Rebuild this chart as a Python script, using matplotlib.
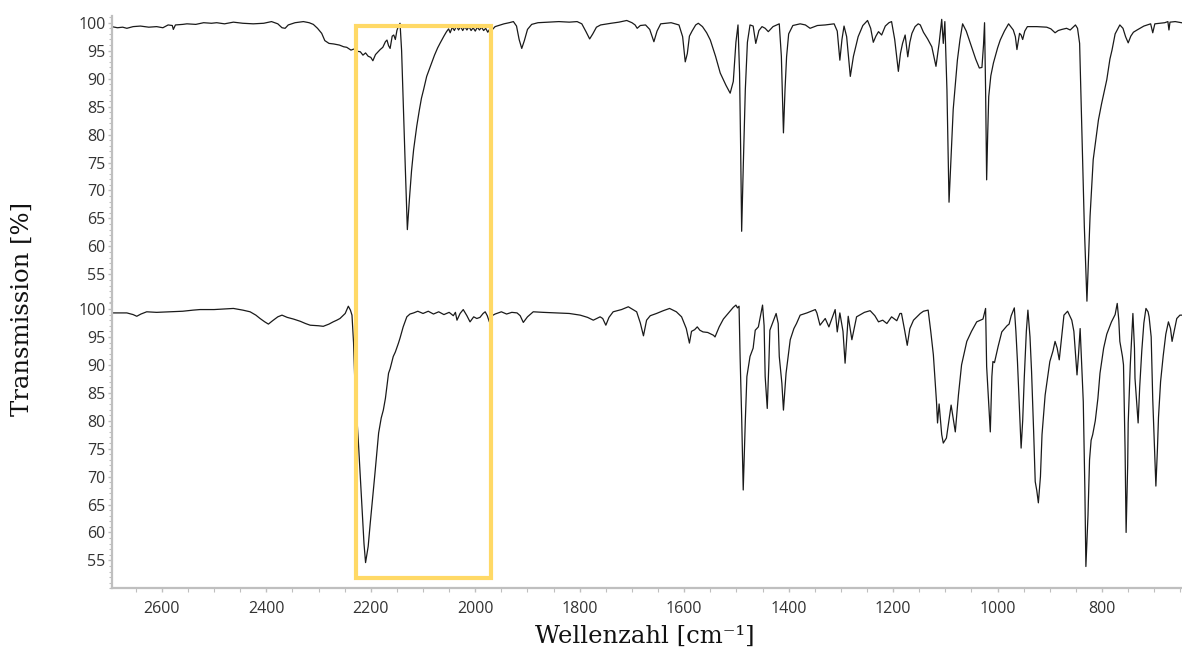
import matplotlib
matplotlib.use("Agg")
import matplotlib.pyplot as plt
from matplotlib.patches import Rectangle
from matplotlib.ticker import MultipleLocator
import numpy as np

# top spectrum (wavenumber cm-1, transmission %)
wn_top = [2696, 2685, 2675, 2667, 2655, 2641, 2625, 2610, 2598, 2588,
          2580, 2578, 2574, 2560, 2552, 2535, 2520, 2505, 2495, 2480,
          2463, 2445, 2425, 2405, 2390, 2378, 2370, 2364, 2358, 2345,
          2329, 2318, 2310, 2302, 2294, 2288, 2280, 2271, 2260, 2252,
          2246, 2238, 2232, 2226, 2220, 2215, 2210, 2205, 2200, 2196,
          2191, 2186, 2182, 2177, 2172, 2169, 2166, 2163, 2159, 2156,
          2153, 2150, 2147, 2144, 2141, 2139, 2134, 2130, 2126, 2122,
          2118, 2112, 2107, 2103, 2099, 2093, 2086, 2078, 2072, 2067,
          2060, 2055, 2051, 2048, 2044, 2040, 2036, 2032, 2028, 2024,
          2020, 2016, 2012, 2008, 2004, 2000, 1996, 1992, 1988, 1984,
          1980, 1976, 1972, 1968, 1962, 1955, 1945, 1935, 1927, 1921,
          1916, 1911, 1906, 1900, 1892, 1880, 1860, 1840, 1820, 1805,
          1796, 1788, 1781, 1775, 1768, 1760, 1740, 1725, 1710, 1700,
          1694, 1690, 1684, 1674, 1666, 1658, 1652, 1645, 1625, 1610,
          1603, 1598, 1594, 1590, 1585, 1578, 1573, 1565, 1557, 1550,
          1540, 1531, 1520, 1512, 1506, 1501, 1497, 1494, 1492, 1490,
          1487, 1483, 1479, 1474, 1468, 1463, 1457, 1451, 1445, 1439,
          1430, 1418, 1414, 1410, 1407, 1404, 1400, 1392, 1378, 1368,
          1359, 1345, 1330, 1313, 1307, 1302, 1298, 1294, 1289, 1282,
          1276, 1267, 1258, 1249, 1243, 1238, 1233, 1228, 1222, 1215,
          1208, 1203, 1197, 1190, 1186, 1182, 1177, 1172, 1168, 1164,
          1158, 1152, 1148, 1142, 1134, 1126, 1118, 1112, 1107, 1104,
          1101, 1097, 1093, 1089, 1085, 1077, 1072, 1067, 1060, 1050,
          1042, 1035, 1030, 1027, 1025, 1023, 1021, 1019, 1017, 1013,
          1008, 1000, 995, 987, 979, 970, 966, 963, 960, 958,
          955, 952, 948, 943, 925, 906, 898, 890, 884, 877,
          868, 861, 851, 847, 843, 839, 834, 829, 823, 817,
          807, 801, 791, 785, 781, 775, 766, 760, 755, 750,
          745, 740, 733, 720, 707, 703, 699, 690, 680, 674,
          672, 670, 660, 648]
t_top = [99.3, 99.1, 99.2, 99.0, 99.3, 99.4, 99.2, 99.3, 99.1, 99.6,
         99.5, 98.8, 99.6, 99.7, 99.8, 99.7, 100.0, 99.9, 100.0, 99.8,
         100.1, 99.9, 99.8, 99.9, 100.2, 99.8, 99.1, 99.0, 99.6, 100.0,
         100.2, 100.0, 99.7, 99.0, 98.1, 96.8, 96.3, 96.2, 96.0, 95.7,
         95.6, 95.1, 95.3, 94.9, 94.8, 94.2, 94.6, 94.0, 93.8, 93.2,
         94.3, 94.8, 95.2, 95.6, 96.6, 96.9, 95.9, 95.4, 97.6, 97.8,
         97.0, 98.6, 99.4, 99.9, 95.0, 89.0, 74.3, 63.0, 68.5, 73.5,
         77.3, 81.5, 84.4, 86.5, 88.0, 90.4, 92.2, 94.2, 95.5, 96.4,
         97.6, 98.4, 98.9, 98.2, 99.2, 98.6, 99.4, 98.7, 99.3, 98.6,
         99.3, 98.7, 99.3, 98.6, 99.1, 98.5, 99.2, 98.7, 99.2, 98.6,
         99.0, 98.3, 98.9, 98.7, 99.3, 99.5, 99.8, 100.0, 100.2, 99.4,
         97.0, 95.4, 96.8, 98.8, 99.7, 100.0, 100.1, 100.2, 100.1, 100.2,
         99.8, 98.4, 97.1, 98.0, 99.2, 99.6, 99.9, 100.1, 100.4, 100.0,
         99.6, 99.0, 99.5, 99.6, 98.8, 96.6, 98.5, 99.8, 100.0, 99.6,
         97.5, 93.0, 94.5, 97.6, 98.5, 99.6, 99.9, 99.3, 98.2, 96.9,
         94.0, 91.0, 88.8, 87.4, 89.5, 96.5, 99.6, 91.0, 78.0, 62.7,
         74.0, 88.0, 96.5, 99.6, 99.4, 96.3, 98.6, 99.3, 99.0, 98.4,
         99.3, 99.8, 94.0, 80.3, 88.0, 93.9, 98.0, 99.5, 99.8, 99.6,
         99.0, 99.5, 99.6, 99.8, 98.5, 93.3, 97.0, 99.4, 97.5, 90.4,
         94.0, 97.5, 99.5, 100.4, 99.0, 96.5, 97.6, 98.4, 97.8, 99.4,
         100.0, 100.2, 97.0, 91.3, 94.5, 96.3, 97.8, 93.9, 96.5, 98.1,
         99.3, 99.8, 99.6, 98.3, 97.1, 95.7, 92.2, 96.3, 100.6, 96.3,
         100.2, 88.0, 67.9, 76.0, 84.5, 93.3, 97.0, 99.8, 98.5, 95.7,
         93.5, 91.9, 92.0, 96.0, 100.0, 88.0, 71.9, 80.0, 86.8, 90.5,
         92.8, 95.5, 96.9, 98.5, 99.8, 98.7, 97.5, 95.2, 97.0, 98.1,
         97.8, 97.0, 98.5, 99.3, 99.3, 99.2, 98.9, 98.2, 98.6, 98.8,
         99.0, 98.7, 99.6, 99.0, 96.3, 81.5, 63.6, 50.2, 65.4, 75.5,
         82.6, 85.5, 89.8, 93.5, 95.1, 98.0, 99.6, 99.0, 97.5, 96.4,
         97.6, 98.3, 98.7, 99.4, 99.8, 98.2, 99.8, 99.9, 100.0, 100.2,
         98.7, 100.1, 100.2, 100.0]

# bottom spectrum
wn_bot = [2696, 2680, 2667, 2655, 2648, 2640, 2629, 2610, 2584, 2560,
          2540, 2527, 2500, 2480, 2463, 2445, 2431, 2420, 2412, 2403,
          2396, 2388, 2378, 2370, 2360, 2348, 2335, 2325, 2316, 2300,
          2291, 2280, 2272, 2265, 2259, 2249, 2243, 2239, 2236, 2233,
          2230, 2224, 2217, 2213, 2210, 2205, 2201, 2192, 2185, 2180,
          2176, 2172, 2166, 2163, 2157, 2153, 2147, 2144, 2138, 2131,
          2125, 2118, 2110, 2100, 2090, 2080, 2070, 2060, 2050, 2042,
          2038, 2035, 2029, 2023, 2016, 2010, 2003, 1997, 1991, 1985,
          1981, 1977, 1973, 1968, 1962, 1950, 1940, 1930, 1920, 1914,
          1908, 1900, 1889, 1870, 1844, 1820, 1799, 1785, 1774, 1761,
          1756, 1750, 1744, 1736, 1720, 1707, 1700, 1691, 1684, 1678,
          1672, 1665, 1653, 1640, 1628, 1615, 1605, 1596, 1590, 1586,
          1580, 1575, 1570, 1564, 1555, 1544, 1541, 1533, 1525, 1515,
          1506, 1501, 1498, 1495, 1493, 1490, 1487, 1483, 1480, 1477,
          1474, 1468, 1464, 1458, 1450, 1447, 1445, 1441, 1438, 1436,
          1430, 1424, 1420, 1418, 1413, 1410, 1405, 1397, 1390, 1385,
          1378, 1365, 1349, 1346, 1340, 1330, 1323, 1311, 1307, 1302,
          1296, 1292, 1286, 1279, 1270, 1255, 1244, 1235, 1228, 1220,
          1212, 1203, 1193, 1187, 1184, 1178, 1173, 1168, 1161, 1148,
          1142, 1133, 1128, 1123, 1117, 1115, 1112, 1107, 1104, 1098,
          1089, 1081, 1075, 1069, 1059, 1050, 1040, 1028, 1023, 1021,
          1018, 1014, 1011, 1009, 1006, 999, 992, 982, 978, 974,
          968, 965, 962, 958, 955, 952, 949, 945, 942, 938,
          935, 931, 928, 925, 922, 918, 915, 909, 904, 900,
          894, 890, 886, 882, 878, 873, 866, 862, 858, 854,
          848, 845, 842, 839, 836, 833, 831, 827, 824, 821,
          818, 813, 808, 804, 797, 791, 782, 775, 771, 768,
          766, 761, 759, 756, 754, 751, 750, 746, 741, 738,
          737, 731, 728, 724, 720, 716, 712, 710, 706, 703,
          700, 697, 694, 692, 688, 683, 678, 673, 669, 666,
          661, 657, 651, 648]
t_bot = [99.3, 99.3, 99.3, 99.0, 98.7, 99.1, 99.5, 99.4, 99.5, 99.6,
         99.8, 99.9, 99.9, 100.0, 100.1, 99.8, 99.5, 98.9, 98.3, 97.7,
         97.3, 97.9, 98.6, 98.9, 98.5, 98.2, 97.8, 97.4, 97.1, 97.0,
         96.9, 97.3, 97.7, 98.0, 98.3, 99.2, 100.5, 99.8, 98.9, 94.0,
         85.5, 76.6, 64.7, 58.0, 54.6, 57.5, 61.7, 70.6, 77.8, 80.5,
         81.9, 84.0, 88.5, 89.3, 91.5, 92.3, 93.9, 94.8, 96.8, 98.6,
         99.1, 99.3, 99.6, 99.2, 99.6, 99.1, 99.5, 99.0, 99.4, 98.8,
         99.4, 98.0, 99.2, 99.9, 98.8, 97.7, 98.6, 98.3, 98.5, 99.2,
         99.5, 98.8, 97.7, 98.8, 99.1, 99.5, 99.1, 99.4, 99.3, 98.8,
         97.6, 98.6, 99.5, 99.4, 99.3, 99.2, 98.9, 98.5, 98.0, 98.6,
         98.3, 97.1, 98.5, 99.5, 99.9, 100.4, 100.0, 99.5, 97.5, 95.2,
         98.0, 98.8, 99.2, 99.7, 100.1, 99.5, 98.6, 96.5, 93.9, 96.0,
         96.3, 96.8, 96.2, 95.9, 95.8, 95.3, 95.0, 96.8, 98.2, 99.3,
         100.3, 100.7, 100.2, 100.5, 91.5, 80.7, 67.6, 80.0, 87.9, 89.7,
         91.5, 93.0, 96.2, 96.8, 100.7, 97.0, 87.9, 82.2, 90.0, 96.2,
         97.7, 99.2, 97.4, 91.5, 86.7, 81.9, 88.5, 94.5, 96.5, 97.4,
         98.9, 99.3, 99.9, 99.3, 97.1, 98.3, 96.8, 99.9, 95.9, 99.3,
         96.0, 90.3, 98.7, 94.5, 98.6, 99.4, 99.7, 98.8, 97.7, 98.0,
         97.4, 98.6, 97.9, 99.2, 99.2, 96.2, 93.5, 96.5, 98.0, 99.2,
         99.6, 99.8, 96.0, 91.8, 83.4, 79.6, 83.0, 77.5, 76.0, 76.9,
         82.8, 78.0, 84.6, 90.0, 94.2, 96.0, 97.7, 98.2, 100.1, 89.7,
         84.6, 78.0, 87.9, 90.6, 90.4, 93.3, 95.9, 97.0, 97.3, 98.8,
         100.2, 96.0, 90.6, 82.0, 75.1, 80.0, 87.6, 96.0, 99.8, 95.0,
         88.8, 78.0, 69.1, 67.5, 65.3, 70.0, 77.5, 84.6, 88.0, 90.6,
         92.5, 94.2, 93.0, 90.9, 94.5, 98.9, 99.6, 98.8, 98.0, 96.0,
         88.2, 92.0, 96.5, 90.0, 83.4, 68.0, 53.9, 63.0, 73.0, 76.5,
         77.5, 80.0, 84.0, 88.5, 93.0, 95.5, 97.7, 99.0, 101.0, 98.0,
         94.2, 91.5, 90.0, 75.0, 60.0, 72.0, 79.6, 90.0, 99.2, 93.0,
         87.6, 79.6, 86.0, 92.5, 97.5, 100.1, 99.5, 98.6, 95.0, 83.8,
         76.0, 68.3, 75.0, 80.6, 87.0, 91.6, 95.5, 97.7, 96.5, 94.2,
         96.5, 98.3, 98.9, 98.9]

assert len(wn_top) == len(t_top) and len(wn_bot) == len(t_bot)

# highlighted region (wavenumber range, lower value in bottom panel, upper value in top panel)
box_wn = (2229, 1969)
box_low = 51.9
box_high = 99.5

x_range = (2696, 647)
y_range = (50, 101.2)
y_ticks = list(range(55, 101, 5))
x_ticks = list(range(800, 2601, 200))

grey = '#BFBFBF'
tick_font = 'Open Sans'

fig = plt.figure(figsize=(11.82, 6.5), dpi=100)
left = 111.7 / 1182
ax_top = fig.add_axes([left, 347.7 / 650, 1 - left, 286.3 / 650])
ax_bot = fig.add_axes([left, 61.7 / 650, 1 - left, 286.0 / 650])

ax_top.plot(wn_top, t_top, color='#1a1a1a', lw=0.9)
ax_bot.plot(wn_bot, t_bot, color='#1a1a1a', lw=0.9)

for ax in (ax_top, ax_bot):
    ax.set_xlim(*x_range)
    ax.set_ylim(*y_range)
    ax.set_yticks(y_ticks)
    ax.yaxis.set_minor_locator(MultipleLocator(1))
    for s in ('top', 'right', 'bottom'):
        ax.spines[s].set_visible(False)
    ax.spines['left'].set_color(grey)
    ax.spines['left'].set_linewidth(1.6)
    ax.tick_params(axis='y', which='major', length=3, width=1, color=grey,
                   labelsize=11.5, labelcolor='#333333', pad=1.5)
    ax.tick_params(axis='y', which='minor', length=2, width=0.8, color=grey)
    for lab in ax.get_yticklabels():
        lab.set_fontfamily(tick_font)

ax_top.set_xticks([])
ax_bot.spines['bottom'].set_visible(True)
ax_bot.spines['bottom'].set_color(grey)
ax_bot.spines['bottom'].set_linewidth(1.6)
ax_bot.set_xticks(x_ticks)
ax_bot.xaxis.set_minor_locator(MultipleLocator(50))
ax_bot.tick_params(axis='x', which='major', length=3, width=1, color=grey,
                   labelsize=11.5, labelcolor='#333333', pad=6)
ax_bot.tick_params(axis='x', which='minor', length=3, width=0.8, color=grey)
for lab in ax_bot.get_xticklabels():
    lab.set_fontfamily(tick_font)

# yellow box spanning both panels, placed via data transforms
to_fig = fig.transFigure.inverted()
x0, y0 = to_fig.transform(ax_bot.transData.transform((box_wn[0], box_low)))
x1, y1 = to_fig.transform(ax_top.transData.transform((box_wn[1], box_high)))
fig.patches.append(Rectangle((x0, y0), x1 - x0, y1 - y0, transform=fig.transFigure,
                             fill=False, edgecolor='#FFD966', lw=3, zorder=5))

fig.text(22 / 1182, 1 - 309 / 650, 'Transmission [%]', rotation=90,
         ha='center', va='center', fontsize=17.5, family='DejaVu Serif', color='#111111')
fig.text(645 / 1182, 1 - 636 / 650, 'Wellenzahl [cm\u207b\u00b9]',
         ha='center', va='center', fontsize=17.5, family='DejaVu Serif', color='#111111')

fig.savefig('out.png', dpi=100)
